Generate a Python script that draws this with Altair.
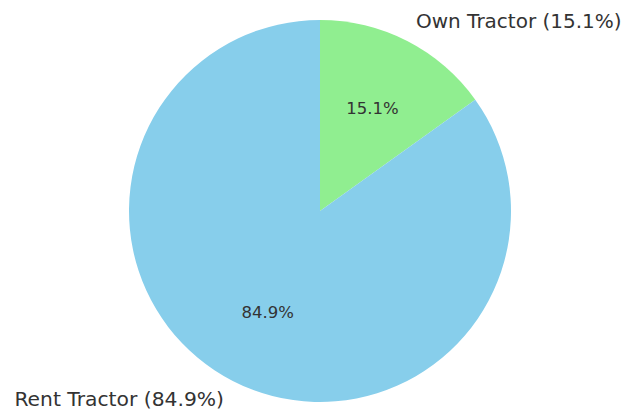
import altair as alt
import pandas as pd

categories = ["Own Tractor", "Rent Tractor"]
values = [15.1, 84.9]
colors = ["#90EE90", "#87CEEB"]

df = pd.DataFrame({
    "category": categories,
    "value": values,
    "idx": list(range(len(categories))),
})
df["pct"] = [f"{v:.1f}%" for v in values]
df["label"] = [f"{c} ({v:.1f}%)" for c, v in zip(categories, values)]

CX, CY, R = 312, 203, 191

base = alt.Chart(df).encode(
    theta=alt.Theta("value:Q", stack=True),
    order=alt.Order("idx:Q"),
    x=alt.value(CX),
    y=alt.value(CY),
)

arcs = base.mark_arc(outerRadius=R).encode(
    color=alt.Color("category:N", scale=alt.Scale(domain=categories, range=colors), legend=None)
)

inner = base.mark_text(radius=R * 0.6, fontSize=16.5, font="DejaVu Sans", color="#333333").encode(
    text="pct:N"
)

outer_right = base.mark_text(radius=R * 1.1, fontSize=20, font="DejaVu Sans", color="#333333",
                             align="left", baseline="middle", dy=-2).encode(
    text="label:N",
    opacity=alt.condition(alt.datum.idx == 0, alt.value(1), alt.value(0)),
)
outer_left = base.mark_text(radius=R * 1.1, fontSize=20.3, font="DejaVu Sans", color="#333333",
                            align="right", baseline="middle", dy=2).encode(
    text="label:N",
    opacity=alt.condition(alt.datum.idx == 1, alt.value(1), alt.value(0)),
)

chart = alt.layer(arcs, inner, outer_right, outer_left).properties(
    width=613, height=402, padding=0, autosize=alt.AutoSizeParams(type="none")
).configure_view(stroke=None)

chart.save("out.html", embed_options={"renderer": "svg", "actions": False})
